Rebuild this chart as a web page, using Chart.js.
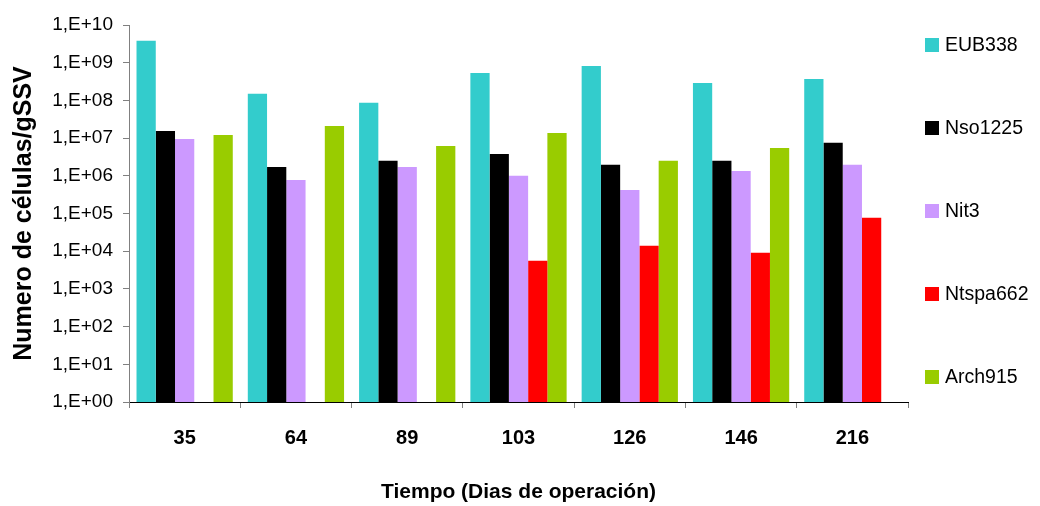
<!DOCTYPE html>
<html>
<head>
<meta charset="utf-8">
<script src="https://cdn.jsdelivr.net/npm/chart.js@4/dist/chart.umd.min.js"></script>
<style>
  html, body { margin: 0; padding: 0; background: #ffffff; }
  #wrap { width: 1040px; height: 506px; }
</style>
</head>
<body>
<div id="wrap"><canvas id="c" width="1040" height="506"></canvas></div>
<script>
// Sampling days (x categories)
const dias = ['35', '64', '89', '103', '126', '146', '216'];

// Cell counts per gram of SSV for each probe
const eub338   = [3.8e9, 1.5e8, 8.6e7, 5.3e8, 8.2e8, 2.9e8, 3.7e8];
const nso1225  = [1.55e7, 1.7e6, 2.5e6, 3.8e6, 1.95e6, 2.5e6, 7.5e6];
const nit3     = [9.5e6, 7.7e5, 1.7e6, 1.0e6, 4.2e5, 1.35e6, 1.95e6];
const ntspa662 = [null, null, null, 5.6e3, 1.4e4, 9.1e3, 7.7e4];
const arch915  = [1.2e7, 2.1e7, 6.2e6, 1.37e7, 2.5e6, 5.5e6, null];

const seriesNames = ['EUB338', 'Nso1225', 'Nit3', 'Ntspa662', 'Arch915'];

// Log-axis ticks, one per decade
const yTickValues = [1, 1e1, 1e2, 1e3, 1e4, 1e5, 1e6, 1e7, 1e8, 1e9, 1e10];
const yTickLabels = ['1,E+00', '1,E+01', '1,E+02', '1,E+03', '1,E+04', '1,E+05',
                     '1,E+06', '1,E+07', '1,E+08', '1,E+09', '1,E+10'];

const FONT = '"Liberation Sans", Arial, sans-serif';
const colors = ['#33CCCC', '#000000', '#CC99FF', '#FF0000', '#99CC00'];
const values = [eub338, nso1225, nit3, ntspa662, arch915];

// Legend drawn down the right side, one entry per dataset
const sideLegend = {
  id: 'sideLegend',
  afterDraw(chart) {
    const ctx = chart.ctx;
    ctx.save();
    ctx.font = '19.5px ' + FONT;
    ctx.textBaseline = 'middle';
    ctx.textAlign = 'left';
    chart.data.datasets.forEach((ds, i) => {
      const y = 45 + i * 83;
      ctx.fillStyle = ds.backgroundColor;
      ctx.fillRect(925, y - 7, 14, 14);
      ctx.fillStyle = '#000000';
      ctx.fillText(ds.label, 945, y + 1);
    });
    ctx.restore();
  }
};

new Chart(document.getElementById('c'), {
  type: 'bar',
  data: {
    labels: dias,
    datasets: seriesNames.map((name, i) => ({
      label: name,
      data: values[i],
      backgroundColor: colors[i],
      borderWidth: 0,
      categoryPercentage: 0.865,
      barPercentage: 1.0
    }))
  },
  options: {
    responsive: false,
    animation: false,
    devicePixelRatio: 1,
    layout: { padding: { left: 0, right: 132, top: 25, bottom: 0 } },
    plugins: {
      legend: { display: false },
      tooltip: { enabled: false }
    },
    scales: {
      x: {
        type: 'category',
        offset: true,
        grid: {
          offset: true,
          drawOnChartArea: false,
          drawTicks: true,
          tickLength: 6,
          color: '#808080'
        },
        border: { display: true, color: '#000000', width: 1 },
        ticks: {
          color: '#000000',
          font: { family: FONT, size: 20, weight: 'bold' },
          padding: 18,
          maxRotation: 0
        },
        title: {
          display: true,
          text: 'Tiempo (Dias de operación)',
          color: '#000000',
          font: { family: FONT, size: 21, weight: 'bold' },
          padding: { top: 0, bottom: 1 }
        },
        afterFit(scale) { scale.height = 104; }
      },
      y: {
        type: 'logarithmic',
        min: 1,
        max: 1e10,
        grid: {
          drawOnChartArea: false,
          drawTicks: true,
          tickLength: 6,
          color: '#808080'
        },
        border: { display: true, color: '#808080', width: 1 },
        afterBuildTicks(scale) {
          scale.ticks = yTickValues.map(v => ({ value: v }));
        },
        ticks: {
          autoSkip: false,
          color: '#000000',
          font: { family: FONT, size: 19 },
          padding: 10,
          callback(value, index) { return yTickLabels[index]; }
        },
        title: {
          display: true,
          text: 'Numero de células/gSSV',
          color: '#000000',
          font: { family: FONT, size: 25, weight: 'bold' },
          padding: { top: 9, bottom: 0 }
        },
        afterFit(scale) { scale.width = 129; }
      }
    }
  },
  plugins: [sideLegend]
});
</script>
</body>
</html>
